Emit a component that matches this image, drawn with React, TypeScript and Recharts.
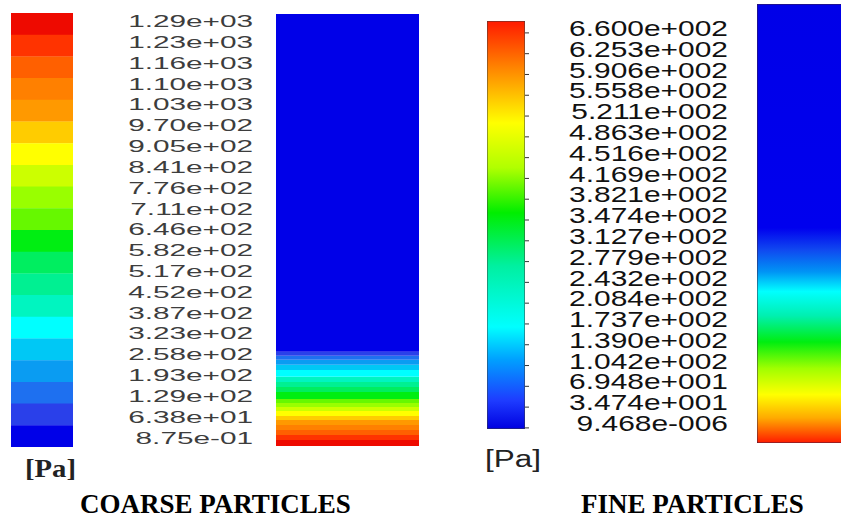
import React from 'react';
import { BarChart, Bar, XAxis, YAxis, Cell } from 'recharts';

// ---------- COARSE PARTICLES ----------
// legend labels, highest to lowest (as printed top to bottom)
const coarseLabels = [
  '1.29e+03', '1.23e+03', '1.16e+03', '1.10e+03', '1.03e+03', '9.70e+02', '9.05e+02',
  '8.41e+02', '7.76e+02', '7.11e+02', '6.46e+02', '5.82e+02', '5.17e+02', '4.52e+02',
  '3.87e+02', '3.23e+02', '2.58e+02', '1.93e+02', '1.29e+02', '6.38e+01', '8.75e-01',
];
// 20 contour band colours, highest to lowest
const coarseColors = [
  '#ee0a00', '#ff3300', '#ff6000', '#ff8000', '#ff9900', '#ffcc00', '#ffff00', '#ccff00',
  '#99ff00', '#66f800', '#00ee12', '#00ee60', '#00f092', '#00f5c0', '#00ffff', '#00c8f5',
  '#0a9cf2', '#1e70f0', '#2a40ea', '#0000e8',
];
// thickness of each contour band in the coarse column (% of column height), same order as coarseColors
const coarseColumnBands = [
  1.39, 1.16, 1.16, 1.16, 1.16, 0.93, 1.16, 0.93, 0.93, 0.93,
  1.62, 1.16, 1.16, 1.16, 1.62, 1.16, 1.16, 0.93, 0.93, 78.24,
];

// ---------- FINE PARTICLES ----------
// legend labels, highest to lowest
const fineLabels = [
  '6.600e+002', '6.253e+002', '5.906e+002', '5.558e+002', '5.211e+002', '4.863e+002',
  '4.516e+002', '4.169e+002', '3.821e+002', '3.474e+002', '3.127e+002', '2.779e+002',
  '2.432e+002', '2.084e+002', '1.737e+002', '1.390e+002', '1.042e+002', '6.948e+001',
  '3.474e+001', '9.468e-006',
];
// continuous colour scale (fraction of the bar from the top, colour)
const fineScaleStops = [
  { at: 0, color: '#ff1a00' },
  { at: 0.11, color: '#ff8000' },
  { at: 0.25, color: '#ffff00' },
  { at: 0.36, color: '#b0ff00' },
  { at: 0.47, color: '#00ee00' },
  { at: 0.6, color: '#00f0a0' },
  { at: 0.75, color: '#00ffff' },
  { at: 0.83, color: '#00a0ff' },
  { at: 0.93, color: '#1e3cff' },
  { at: 1, color: '#0000e0' },
];
// colour along the fine column (fraction of column height from the top, colour)
const fineColumnStops = [
  { at: 0, color: '#0000e8' },
  { at: 0.51, color: '#0000ee' },
  { at: 0.56, color: '#1048f0' },
  { at: 0.61, color: '#0094f5' },
  { at: 0.655, color: '#00ffff' },
  { at: 0.71, color: '#00f0b0' },
  { at: 0.77, color: '#00ee10' },
  { at: 0.83, color: '#a0ff00' },
  { at: 0.89, color: '#ffff00' },
  { at: 0.943, color: '#ffaa00' },
  { at: 0.97, color: '#ff6600' },
  { at: 1, color: '#ff1a00' },
];

const SANS = "'Liberation Sans', Arial, Helvetica, sans-serif";
const SERIF = "'Liberation Serif', 'Times New Roman', Times, serif";
const ZERO = { top: 0, right: 0, bottom: 0, left: 0 };
const LABEL_PAD = 14;

function ScaledTick(props: any) {
  const { x, y, payload, dx, dy, fontSize, sx, fill, tickLen } = props;
  return (
    <g>
      {tickLen ? <line x1={x} x2={x + tickLen} y1={y + 4.5} y2={y + 4.5} stroke="#333" strokeWidth={1} /> : null}
      <g transform={`translate(${x + dx},${y + dy}) scale(${sx},1)`}>
        <text x={0} y={0} textAnchor="end" dominantBaseline="central" fontSize={fontSize} fontFamily={SANS} fill={fill}>
          {payload.value}
        </text>
      </g>
    </g>
  );
}

// legend colour bar: one row per band, stepped
function CoarseBar() {
  const rows = coarseColors.map((color, i) => ({
    band: coarseLabels[i + 1] + '–' + coarseLabels[i],
    color,
    step: 1,
  }));
  return (
    <BarChart layout="vertical" width={62} height={434} data={rows} margin={ZERO} barCategoryGap={0}>
      <XAxis type="number" domain={[0, 'dataMax']} hide />
      <YAxis type="category" dataKey="band" hide />
      <Bar dataKey="step" isAnimationActive={false}>
        {rows.map((r) => (
          <Cell key={r.band} fill={r.color} />
        ))}
      </Bar>
    </BarChart>
  );
}

function LabelAxis({ labels, width, height, axisWidth, dx, dy, fontSize, sx, fill, tickLen }: any) {
  const rows = labels.map((label: string) => ({ label, v: Number(label) }));
  return (
    <BarChart
      layout="vertical"
      width={width}
      height={height + 2 * LABEL_PAD}
      data={rows}
      margin={{ top: LABEL_PAD, right: 0, bottom: LABEL_PAD, left: 0 }}
      barCategoryGap={0}
    >
      <XAxis type="number" domain={[0, 'dataMax']} hide />
      <YAxis
        type="category"
        dataKey="label"
        orientation="right"
        width={axisWidth}
        interval={0}
        axisLine={false}
        tickLine={false}
        tickSize={0}
        tickMargin={0}
        tick={(p: any) => <ScaledTick {...p} dx={dx} dy={dy} fontSize={fontSize} sx={sx} fill={fill} tickLen={tickLen} />}
      />
      <Bar dataKey="v" fill="none" isAnimationActive={false} />
    </BarChart>
  );
}

function CoarseColumn() {
  const row: Record<string, any> = { name: 'coarse' };
  coarseColumnBands.forEach((h, i) => {
    row['b' + i] = h;
  });
  // stack from the bottom (highest pressure) upwards
  const order = coarseColumnBands.map((_, i) => i);
  return (
    <BarChart width={143} height={432} data={[row]} margin={ZERO} barCategoryGap={0}>
      <XAxis dataKey="name" hide />
      <YAxis type="number" domain={[0, 'dataMax']} hide />
      {order.map((i) => (
        <Bar key={i} dataKey={'b' + i} stackId="p" fill={coarseColors[i]} isAnimationActive={false} />
      ))}
    </BarChart>
  );
}

function FineBar() {
  const rows = [{ name: 'scale', max: Number(fineLabels[0]) }];
  return (
    <BarChart width={38} height={408} data={rows} margin={ZERO} barCategoryGap={0}>
      <defs>
        <linearGradient id="fineScale" x1="0" y1="0" x2="0" y2="1">
          {fineScaleStops.map((s) => (
            <stop key={s.at} offset={s.at} stopColor={s.color} />
          ))}
        </linearGradient>
      </defs>
      <XAxis dataKey="name" hide />
      <YAxis type="number" domain={[0, 'dataMax']} hide />
      <Bar dataKey="max" fill="url(#fineScale)" stroke="#3a3a3a" strokeWidth={1} isAnimationActive={false} />
    </BarChart>
  );
}

function FineColumn() {
  const rows = [{ name: 'fine', height: 100 }];
  return (
    <BarChart width={85} height={439} data={rows} margin={ZERO} barCategoryGap={0}>
      <defs>
        <linearGradient id="fineColumn" x1="0" y1="0" x2="0" y2="1">
          {fineColumnStops.map((s) => (
            <stop key={s.at} offset={s.at} stopColor={s.color} />
          ))}
        </linearGradient>
      </defs>
      <XAxis dataKey="name" hide />
      <YAxis type="number" domain={[0, 'dataMax']} hide />
      <Bar dataKey="height" fill="url(#fineColumn)" stroke="#3a2040" strokeWidth={1} isAnimationActive={false} />
    </BarChart>
  );
}

export default function App() {
  const abs = (left: number, top: number): React.CSSProperties => ({ position: 'absolute', left, top });
  return (
    <div style={{ position: 'absolute', left: 0, top: 0, width: 841, height: 519, background: '#fff', overflow: 'hidden' }}>
      <div style={abs(11, 13)}>
        <CoarseBar />
      </div>
      <div style={abs(60, 10.6 - LABEL_PAD)}>
        <LabelAxis labels={coarseLabels} width={200} height={437.3} axisWidth={190} dx={183} dy={0} fontSize={16} sx={1.86} fill="#3d3d3d" tickLen={0} />
      </div>
      <div style={abs(276, 14)}>
        <CoarseColumn />
      </div>
      <div style={abs(487, 21)}>
        <FineBar />
      </div>
      <div style={abs(515, 17.6 - LABEL_PAD)}>
        <LabelAxis labels={fineLabels} width={230} height={415.8} axisWidth={220} dx={203} dy={0} fontSize={22.5} sx={1.33} fill="#111" tickLen={4} />
      </div>
      <div style={abs(757, 4)}>
        <FineColumn />
      </div>
      <svg width={841} height={519} style={{ position: 'absolute', left: 0, top: 0, pointerEvents: 'none' }}>
        <text x={25} y={477} fontFamily={SERIF} fontWeight="bold" fontSize={26} fill="#222" textLength={51} lengthAdjust="spacingAndGlyphs">
          [Pa]
        </text>
        <text x={485} y={467} fontFamily={SANS} fontSize={23} fill="#222" textLength={56} lengthAdjust="spacingAndGlyphs">
          [Pa]
        </text>
        <text x={80} y={513} fontFamily={SERIF} fontWeight="bold" fontSize={27} fill="#000">
          COARSE PARTICLES
        </text>
        <text x={581} y={513} fontFamily={SERIF} fontWeight="bold" fontSize={27} fill="#000">
          FINE PARTICLES
        </text>
      </svg>
    </div>
  );
}
